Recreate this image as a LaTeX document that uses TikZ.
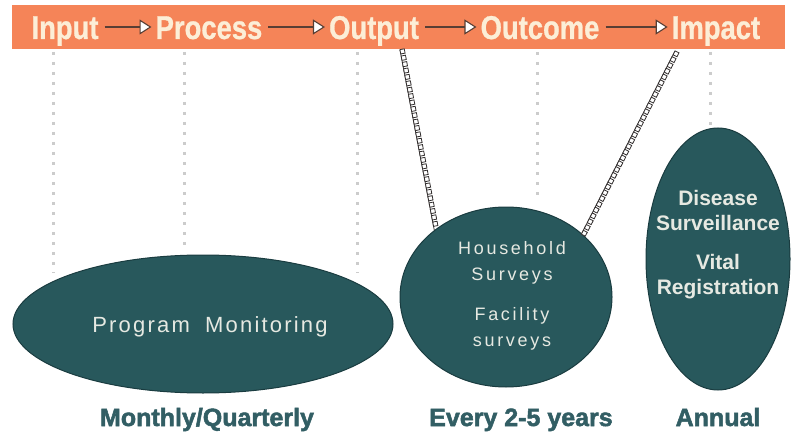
\documentclass[tikz,border=0pt]{standalone}
\usepackage{fontspec}
\setmainfont{Liberation Sans}
\newfontfamily\stagefont[FakeStretch=0.83, FakeBold=0.8]{Liberation Sans Bold}
\newfontfamily\freqfont[FakeBold=2]{Liberation Sans Bold}
\newfontfamily\spacedfont[LetterSpace=10]{Liberation Sans}
\usetikzlibrary{shapes.geometric, arrows.meta, decorations.markings}

\definecolor{barorange}{RGB}{245,132,88}
\definecolor{barcream}{RGB}{252,238,215}
\definecolor{tealfill}{RGB}{40,88,92}
\definecolor{tealedge}{RGB}{26,60,64}
\definecolor{tealtext}{RGB}{50,94,100}
\definecolor{arrowdark}{RGB}{88,62,52}
\definecolor{ladderink}{RGB}{50,46,46}
\definecolor{inktext}{RGB}{230,233,226}

\begin{document}
\begin{tikzpicture}[x=1pt, y=-1pt,
  stage/.style={font=\stagefont\fontsize{33}{33}\selectfont, text=barcream,
    inner sep=0pt, text height=24pt, text depth=0pt},
  flow/.style={line width=1.8pt, draw=arrowdark, shorten <=6pt, shorten >=4pt,
    -{Triangle[length=12pt, width=15pt, fill=white, line width=1.1pt]}},
  guide/.style={line width=3pt, gray!40, dash pattern=on 3pt off 7pt},
  ladder/.style={draw=ladderink, line width=0.8pt, postaction={decorate},
    decoration={markings, mark=between positions 0.01 and 1 step 6.5pt with
      {\draw[ladderink, line width=0.8pt, fill=white] (-2.2pt,0pt) rectangle (2.2pt,4.4pt);}}},
  blob/.style={ellipse, fill=tealfill, draw=tealedge, line width=1pt, inner sep=0pt},
  blobtext/.style={text=inktext, align=center, inner sep=0pt},
  freq/.style={font=\freqfont\fontsize{25}{25}\selectfont, text=tealtext, anchor=base}]
\useasboundingbox (0,0) rectangle (795,433);
% ---------- results chain bar ----------
\node[fill=barorange, minimum width=773pt, minimum height=44pt, inner sep=0pt] (bar) at (398.5,27) {};
\node[stage] (input) at (65,27) {Input};
\node[stage] (process) at (209,27) {Process};
\node[stage] (output) at (374,27) {Output};
\node[stage] (outcome) at (540,27) {Outcome};
\node[stage] (impact) at (716,27) {Impact};
\draw[flow] (input) -- (process);
\draw[flow] (process) -- (output);
\draw[flow] (output) -- (outcome);
\draw[flow] (outcome) -- (impact);
% ---------- data sources ----------
\node[blob, minimum width=380pt, minimum height=138pt] (monitor) at (203,324) {};
\node[blob, minimum width=212pt, minimum height=180pt] (survey) at (506,297) {};
\node[blob, minimum width=144pt, minimum height=262pt] (registry) at (718,259) {};
\node[blobtext, font=\spacedfont\fontsize{22}{26}\selectfont] (monitortext) at (210,327)
  {Program\hspace{7pt} Monitoring};
\node[blobtext, font=\spacedfont\addfontfeature{LetterSpace=15}\fontsize{18}{26}\selectfont] (surveytext) at (512,296)
  {Household\\Surveys\\[14pt]Facility\\surveys};
\node[blobtext, font=\bfseries\fontsize{21}{25}\selectfont] (registrytext) at (718,245)
  {Disease\\Surveillance\\[14pt]Vital\\Registration};
% dotted guides from the stages
\draw[guide] (53,52) -- (53,273);
\draw[guide] (184,52) -- (184,252);
\draw[guide] (357,52) -- (357,273);
\draw[guide] (537,52) -- (537,200);
\draw[guide] (710,52) -- (710,127);
% survey links: output and impact
\coordinate (outputfoot) at (400,50);
\coordinate (impactfoot) at (675,51);
\draw[ladder] (outputfoot) -- (survey.137);
\draw[ladder] (impactfoot) -- (survey.40);
% ---------- frequencies ----------
\node[freq] (monthly) at (207,426) {Monthly/Quarterly};
\node[freq] (every) at (521,426) {Every 2-5 years};
\node[freq] (annual) at (718,426) {Annual};
\end{tikzpicture}
\end{document}
